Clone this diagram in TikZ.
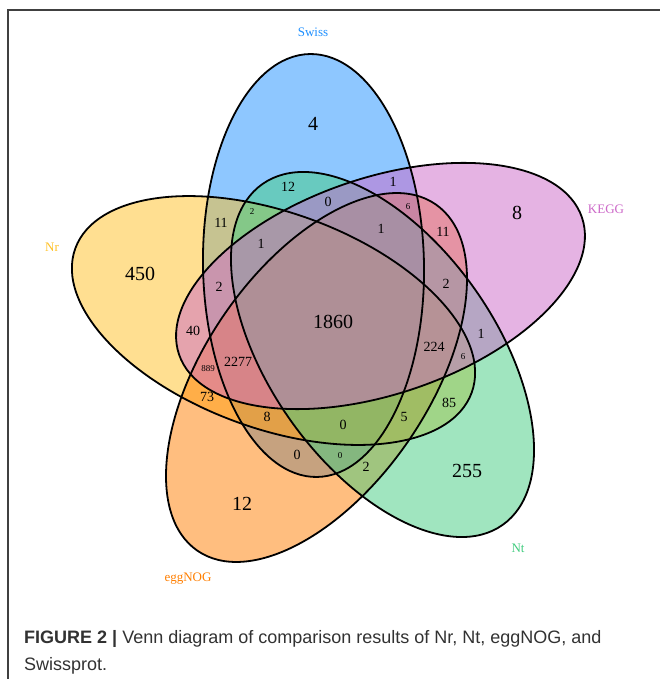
\documentclass[tikz,border=0pt]{standalone}
\usepackage{fontspec}
\setmainfont{Liberation Serif}
\newfontfamily\capfont{Liberation Sans}
\definecolor{cSwiss}{RGB}{30,144,255}
\definecolor{cNr}{RGB}{255,193,37}
\definecolor{cKEGG}{RGB}{205,105,201}
\definecolor{cNt}{RGB}{67,205,128}
\definecolor{cEgg}{RGB}{255,127,0}
\definecolor{capgray}{RGB}{50,50,50}
\begin{document}
\begin{tikzpicture}[x=1pt,y=1pt,
  setfill/.style={fill=#1, fill opacity=0.5, draw=none},
  outline/.style={draw=black, line width=1.8pt},
  big/.style={font=\fontsize{20}{20}\selectfont, inner sep=0pt},
  mid/.style={font=\fontsize{14}{14}\selectfont, inner sep=0pt},
  small/.style={font=\fontsize{9}{9}\selectfont, inner sep=0pt},
  setlabel/.style={font=\fontsize{13}{13}\selectfont, text=#1, inner sep=0pt},
  capline/.style={font=\capfont\fontsize{18}{18}\selectfont, text=capgray, inner sep=0pt, anchor=base west}
  ]
\useasboundingbox (0,0) rectangle (660,-679);
\fill[white] (0,0) rectangle (660,-679);
\draw[line width=1.4pt, black!75] (8,-679) -- (8,-10) -- (660,-10);

\coordinate (cS) at (313.5,-265.5);
\coordinate (cK) at (380.5,-286);
\coordinate (cT) at (382.5,-354.5);
\coordinate (cE) at (316.5,-377.5);
\coordinate (cR) at (273.5,-320.5);

% fills (order: Swiss, Nr, eggNOG, Nt, KEGG)
\path[setfill=cSwiss, rotate around={1:(cS)}] (cS) ellipse [x radius=110.5, y radius=211.5];
\path[setfill=cNr, rotate around={-20:(cR)}] (cR) ellipse [x radius=210.9, y radius=107.9];
\path[setfill=cEgg, rotate around={55.5:(cE)}] (cE) ellipse [x radius=210.2, y radius=111.7];
\path[setfill=cNt, rotate around={-54.85:(cT)}] (cT) ellipse [x radius=208.5, y radius=113.1];
\path[setfill=cKEGG, rotate around={18.8:(cK)}] (cK) ellipse [x radius=212.8, y radius=108];

% outlines
\draw[outline, rotate around={1:(cS)}] (cS) ellipse [x radius=110.5, y radius=211.5];
\draw[outline, rotate around={-20:(cR)}] (cR) ellipse [x radius=210.9, y radius=107.9];
\draw[outline, rotate around={55.5:(cE)}] (cE) ellipse [x radius=210.2, y radius=111.7];
\draw[outline, rotate around={-54.85:(cT)}] (cT) ellipse [x radius=208.5, y radius=113.1];
\draw[outline, rotate around={18.8:(cK)}] (cK) ellipse [x radius=212.8, y radius=108];

% set labels
\node[setlabel=cSwiss] (lSwiss) at (313,-32) {Swiss};
\node[setlabel=cKEGG] (lKEGG) at (606,-209) {KEGG};
\node[setlabel=cNr] (lNr) at (52,-247) {Nr};
\node[setlabel=cNt] (lNt) at (518,-548) {Nt};
\node[setlabel=cEgg] (lEgg) at (188,-579) {eggNOG};

% big counts
\node[big] (n4) at (313,-124) {4};
\node[big] (n8) at (517,-213) {8};
\node[big] (n450) at (140,-274) {450};
\node[big] (n1860) at (333,-322) {1860};
\node[big] (n255) at (467,-471) {255};
\node[big] (n12b) at (242,-504) {12};

% medium counts
\node[mid] (m12) at (288,-187) {12};
\node[mid] (m0a) at (328,-202) {0};
\node[mid] (m1a) at (393,-182) {1};
\node[mid] (m11a) at (221,-223) {11};
\node[mid] (m1b) at (261,-244) {1};
\node[mid] (m1c) at (381,-229) {1};
\node[mid] (m11b) at (443,-232) {11};
\node[mid] (m2a) at (219,-287) {2};
\node[mid] (m2b) at (446,-284) {2};
\node[mid] (m40) at (193,-331) {40};
\node[mid] (m224) at (434,-347) {224};
\node[mid] (m1d) at (481,-334) {1};
\node[mid] (m2277) at (238,-362) {2277};
\node[mid] (m73) at (207,-397) {73};
\node[mid] (m8) at (267,-417) {8};
\node[mid] (m0b) at (343,-425) {0};
\node[mid] (m5) at (404,-417) {5};
\node[mid] (m85) at (449,-403) {85};
\node[mid] (m0c) at (297,-455) {0};
\node[mid] (m2c) at (366,-467) {2};

% small counts
\node[small] (s2) at (252,-212) {2};
\node[small] (s6a) at (408,-207) {6};
\node[small] (s889) at (208,-369) {889};
\node[small] (s6b) at (463,-357) {6};
\node[small] (s0) at (340,-456) {0};

% caption
\node[capline] (cap1) at (24,-643) {{\bfseries FIGURE 2 \textbar}\ Venn diagram of comparison results of Nr, Nt, eggNOG, and};
\node[capline] (cap2) at (24,-670) {Swissprot.};
\end{tikzpicture}
\end{document}
